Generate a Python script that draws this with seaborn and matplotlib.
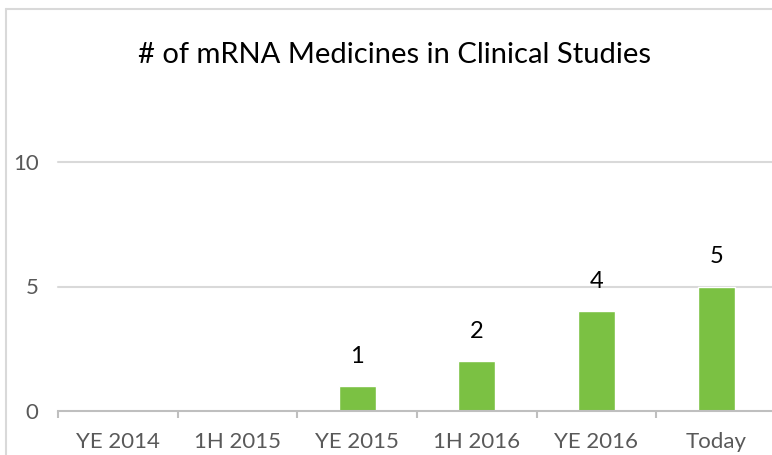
import matplotlib
matplotlib.use("Agg")
import matplotlib.pyplot as plt
from matplotlib.lines import Line2D
import seaborn as sns
import pandas as pd

categories = ["YE 2014", "1H 2015", "YE 2015", "1H 2016", "YE 2016", "Today"]
values = [0, 0, 1, 2, 4, 5]
y_ticks = [0, 5, 10]
title = "# of mRNA Medicines in Clinical Studies"

sns.set_theme(style="white")
plt.rcParams["font.family"] = ["Lato", "DejaVu Sans"]

df = pd.DataFrame({"cat": categories, "val": values})

W, H = 772, 455
fig = plt.figure(figsize=(W / 100, H / 100), dpi=100)
fig.patch.set_facecolor("white")

# chart frame (left and top edges only visible)
fx, fy = 5.5 / W, 1 - 8.5 / H
fig.add_artist(Line2D([fx, fx], [0, fy], transform=fig.transFigure,
                      color="#D9D9D9", linewidth=1.5))
fig.add_artist(Line2D([fx, 1], [fy, fy], transform=fig.transFigure,
                      color="#D9D9D9", linewidth=1.5))

ax = fig.add_axes([58 / W, 1 - 411 / H, 718 / W, (411 - 162) / H])
sns.barplot(data=df, x="cat", y="val", color="#7BC143", width=0.31,
            saturation=1, ax=ax)
ax.set_ylim(0, 10)
ax.set_xlim(-0.5, len(categories) - 0.5)
ax.set_yticks(y_ticks)
ax.set_xlabel("")
ax.set_ylabel("")
for s in ["top", "right", "left"]:
    ax.spines[s].set_visible(False)
ax.spines["bottom"].set_color("#BFBFBF")
ax.spines["bottom"].set_linewidth(1.5)
for y in y_ticks[1:]:
    ax.axhline(y, color="#D9D9D9", linewidth=1.5, zorder=0, clip_on=False)
ax.tick_params(axis="x", which="major", length=0, labelsize=16,
               labelcolor="#595959", pad=15)
ax.tick_params(axis="y", which="major", length=0, labelsize=16,
               labelcolor="#595959", pad=14)
ax.set_xticks([i - 0.5 for i in range(len(categories) + 1)], minor=True)
ax.tick_params(axis="x", which="minor", bottom=True, length=5, width=1.5,
               color="#BFBFBF")

for i, v in enumerate(values):
    if v > 0:
        ax.annotate(str(v), (i, v), xytext=(0, 14), textcoords="offset points",
                    ha="center", va="bottom", fontsize=17, color="black")

fig.text(394 / W, 1 - 55 / H, title, ha="center", va="center",
         fontsize=21, color="black")

fig.savefig("out.png", dpi=100)
